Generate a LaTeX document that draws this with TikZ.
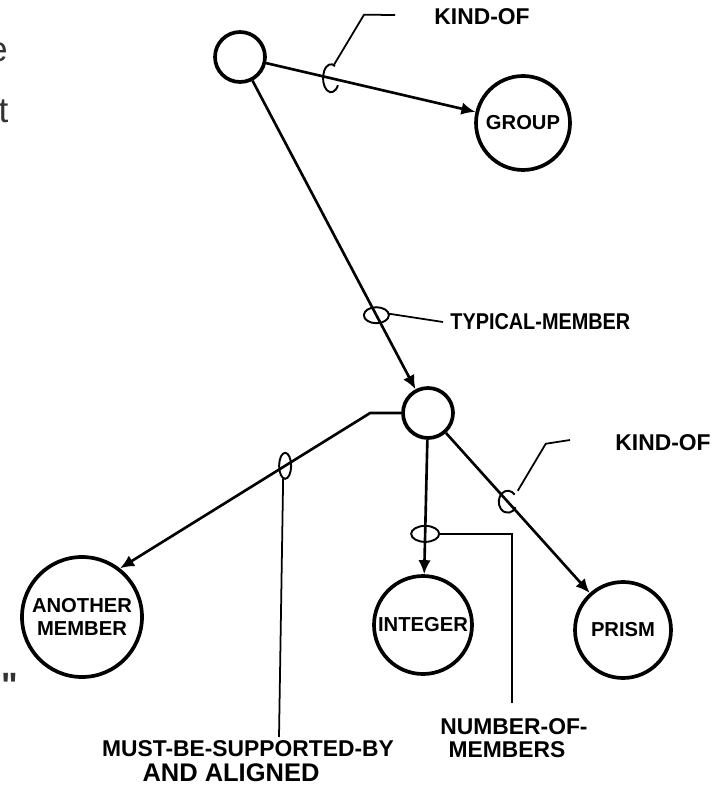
\documentclass[tikz,border=0pt]{standalone}
\usepackage{fontspec}
\setmainfont{Liberation Sans}
\newfontfamily\plainsans{Liberation Sans}
\newfontfamily\narrowsans[FakeStretch=0.87]{Liberation Sans}
\usetikzlibrary{arrows.meta}

\begin{document}
\begin{tikzpicture}[>={Latex[length=2.8mm,width=2.5mm]},
  concept/.style={draw=black,line width=2.1pt,circle,inner sep=0pt,align=center,
                  font=\fontsize{11.5}{12}\selectfont\bfseries},
  lab/.style={font=\fontsize{13}{14}\selectfont\bfseries,inner sep=0pt},
  frag/.style={font=\fontsize{20}{20}\selectfont,text=black!80,inner sep=0pt,anchor=base},
  conn/.style={draw=black,line width=1.5pt,->},
  ring/.style={draw=black,line width=1.1pt},
  lead/.style={draw=black,line width=1pt}]

\useasboundingbox (0,0) rectangle (14.5,-15.74);

% ---- cut-off text at the left edge ----
\node[frag] (frage) at (-0.04,-1.24) {e};
\node[frag] (fragt) at (0.07,-2.46) {t};
\node[frag,font=\fontsize{20}{20}\plainsans\bfseries] (fragq) at (0.2,-13.94) {"};

% ---- concept nodes ----
\node[concept,minimum size=1.0cm] (top) at (4.8,-1.14) {};
\node[concept,minimum size=1.88cm] (group) at (10.46,-2.46) {GROUP};
\node[concept,minimum size=1.0cm] (mid) at (8.56,-8.26) {};
\node[concept,minimum size=2.4cm] (another) at (1.64,-12.34) {ANOTHER\\[1pt]MEMBER};
\node[concept,minimum size=1.96cm] (integer) at (8.46,-12.5) {INTEGER};
\node[concept,minimum size=1.92cm] (prism) at (12.46,-12.6) {PRISM};

% ---- relation labels ----
\node[lab] (kind1) at (9.64,-0.34) {KIND-OF};
\node[lab,anchor=west,font=\fontsize{13}{14}\narrowsans\bfseries] (typ) at (9.0,-6.44) {TYPICAL-MEMBER};
\node[lab] (kind2) at (13.26,-8.86) {KIND-OF};
\node[lab] (must) at (4.96,-14.97) {MUST-BE-SUPPORTED-BY};
\node[lab,font=\fontsize{14.5}{15}\selectfont\bfseries] (aligned) at (4.62,-15.46) {AND ALIGNED};
\node[lab] (num) at (10.28,-14.54) {NUMBER-OF-};
\node[lab] (members) at (10.14,-15.0) {MEMBERS};

% ---- links ----
\draw[conn] (top) -- coordinate[pos=0.31] (k1) (group);
\draw[conn] (top) -- coordinate[pos=0.76] (k2) (mid);
\draw[conn] (mid.west) -- ++(-0.62,0) coordinate (bend) -- coordinate[pos=0.34] (k3) (another.52);
\draw[conn] (mid) -- coordinate[pos=0.7] (k4) (integer);
\draw[conn] (mid) -- coordinate[pos=0.43] (k5) (prism);

% ---- rings on the links ----
\draw[ring] (k1) ++(60:0.16 and 0.28) arc[start angle=60,end angle=330,x radius=0.16,y radius=0.28];
\draw[ring] (k2) ellipse [x radius=0.25, y radius=0.16];
\draw[ring] (k3) ellipse [x radius=0.12, y radius=0.26];
\draw[ring] (k4) ellipse [x radius=0.28, y radius=0.16];
\draw[ring] (k5) ++(40:0.18 and 0.22) arc[start angle=40,end angle=330,x radius=0.18,y radius=0.22];

% ---- leaders to the labels ----
\coordinate (end1) at (7.9,-0.3);
\coordinate (end3) at (5.58,-14.74);
\coordinate (end4) at (10.24,-14.06);
\coordinate (end5) at (11.4,-8.8);
\draw[lead] (k1) ++(0.06,0.27) -- ++(0.6,1.0) -- (end1);
\draw[lead] (k2) ++(0.25,0.03) -- ([xshift=-4pt]typ.west);
\draw[lead] (k3) ++(-0.04,-0.26) -- (end3);
\draw[lead] (k4) ++(0.28,0) -- (end4 |- k4) -- (end4);
\draw[lead] (k5) ++(0.2,0.22) -- ++(0.56,0.94) -- (end5);
\end{tikzpicture}
\end{document}
